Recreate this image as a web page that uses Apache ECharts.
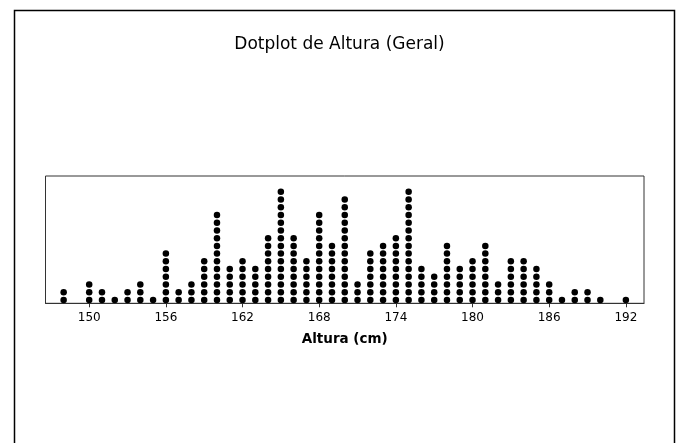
<!DOCTYPE html>
<html>
<head>
<meta charset="utf-8">
<script src="https://cdn.jsdelivr.net/npm/echarts@6/dist/echarts.min.js"></script>
<style>html,body{margin:0;padding:0;background:#fff}#c{width:679px;height:443px}</style>
</head>
<body>
<div id="c"></div>
<script>
// Heights (cm) and number of dots stacked at each
var heights = [148,149,150,151,152,153,154,155,156,157,158,159,160,161,162,163,164,165,166,167,168,169,170,171,172,173,174,175,176,177,178,179,180,181,182,183,184,185,186,187,188,189,190,191,192];
var counts  = [2,0,3,2,1,2,3,1,7,2,3,6,12,5,6,5,9,15,9,6,12,8,14,3,7,8,9,15,5,4,8,5,6,8,3,6,6,5,3,1,2,2,1,0,1];
var tickValues = [150,156,162,168,174,180,186,192];

var points = [];
for (var i = 0; i < heights.length; i++) {
  for (var k = 1; k <= counts[i]; k++) points.push([heights[i], k]);
}

var chart = echarts.init(document.getElementById('c'));
chart.setOption({
  animation: false,
  backgroundColor: '#fff',
  title: {
    text: 'Dotplot de Altura (Geral)',
    left: 'center', top: 31,
    textStyle: {fontFamily: 'DejaVu Sans', fontSize: 17, fontWeight: 'normal', color: '#000'}
  },
  grid: {left: 45.5, right: 35, top: 176, bottom: 139.7, show: true, borderColor: '#333', borderWidth: 1},
  graphic: [{
    type: 'rect', shape: {x: 14.5, y: 10.5, width: 660, height: 450},
    style: {fill: 'none', stroke: '#000', lineWidth: 1.5}, silent: true
  }],
  xAxis: {
    type: 'value', min: 146.58, max: 193.42,
    name: 'Altura (cm)', nameLocation: 'middle', nameGap: 29,
    nameTextStyle: {fontFamily: 'DejaVu Sans', fontSize: 13.5, fontWeight: 'bold', color: '#000'},
    axisLine: {show: true, lineStyle: {color: '#333', width: 1}},
    axisTick: {show: true, length: 4, customValues: tickValues, lineStyle: {color: '#333'}},
    axisLabel: {customValues: tickValues, margin: 9, fontFamily: 'DejaVu Sans', fontSize: 12, color: '#000'},
    splitLine: {show: false}
  },
  yAxis: {
    type: 'value', min: 0.574, max: 17.04, show: false, splitLine: {show: false}
  },
  series: [{
    type: 'scatter', data: points, symbol: 'circle', symbolSize: 6.5,
    itemStyle: {color: '#000', opacity: 1}
  }]
});
</script>
</body>
</html>
